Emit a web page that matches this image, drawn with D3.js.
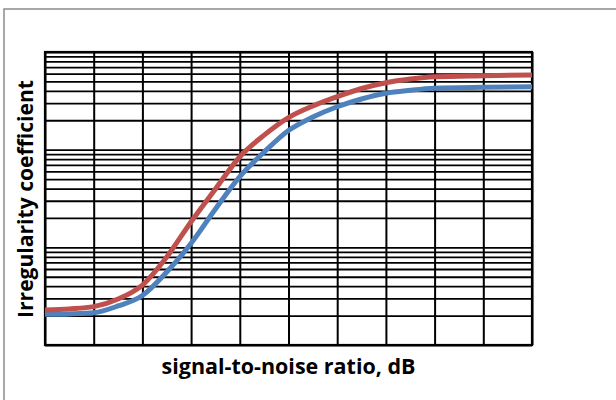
<!DOCTYPE html>
<html>
<head>
<meta charset="utf-8">
<script src="https://cdn.jsdelivr.net/npm/d3@7"></script>
<style>
  html, body { margin: 0; padding: 0; background: #fff; }
  svg { display: block; }
</style>
</head>
<body>
<svg id="chart" width="616" height="400"></svg>
<script>
// ---- data ----
const snr = [0, 0.5, 1, 1.5, 2, 2.5, 3, 3.5, 4, 4.5, 5, 5.5, 6, 6.5, 7, 7.5, 8, 9, 10];
const seriesRed  = [2.28, 2.34, 2.47, 2.96, 4.11, 7.96, 18.3, 39.6, 84.7, 141, 213, 280, 349, 423, 485, 529, 558, 572, 581];
const seriesBlue = [2.06, 2.08, 2.14, 2.51, 3.21, 5.59, 11.0, 24.7, 52.9, 94.6, 157, 216, 275, 330, 378, 405, 425, 435, 441];
const xTicks = [0, 1, 2, 3, 4, 5, 6, 7, 8, 9, 10];
const xTitle = "signal-to-noise ratio, dB";
const yTitle = "Irregularity coefficient";

// ---- layout ----
const svg = d3.select("#chart");
const margin = { left: 45, right: 84, top: 52, bottom: 55 };
const W = 616, H = 400;

svg.append("rect").attr("x", 4).attr("y", 9).attr("width", 700).attr("height", 500)
  .attr("fill", "#fff").attr("stroke", "#8c8c8c").attr("stroke-width", 1.5);

const x = d3.scaleLinear().domain([0, 10]).range([margin.left, W - margin.right]);
const y = d3.scaleLog().domain([1, 1000]).range([H - margin.bottom, margin.top]);

// vertical grid
svg.append("g")
  .attr("transform", `translate(0,${margin.top})`)
  .call(d3.axisTop(x).tickValues(xTicks).tickSize(-(y.range()[0] - y.range()[1])).tickFormat(""))
  .call(g => g.select(".domain").remove())
  .call(g => g.selectAll("line").attr("stroke", "#000").attr("stroke-width", 2));

// horizontal log grid
const yGrid = [];
for (let d = 1; d < 1000; d *= 10) for (let k = 1; k <= 9; k++) yGrid.push(d * k);
yGrid.push(1000);
svg.append("g")
  .attr("transform", `translate(${margin.left},0)`)
  .call(d3.axisLeft(y).tickValues(yGrid).tickSize(-(x.range()[1] - x.range()[0])).tickFormat(""))
  .call(g => g.select(".domain").remove())
  .call(g => g.selectAll("line").attr("stroke", "#000").attr("stroke-width", 1.8));

// border
svg.append("rect")
  .attr("x", x.range()[0]).attr("y", y.range()[1])
  .attr("width", x.range()[1] - x.range()[0]).attr("height", y.range()[0] - y.range()[1])
  .attr("fill", "none").attr("stroke", "#000").attr("stroke-width", 2.2);

const line = d3.line().x((d, i) => x(snr[i])).y(d => y(d)).curve(d3.curveMonotoneX);

svg.append("path").datum(seriesBlue).attr("d", line)
  .attr("fill", "none").attr("stroke", "#4F81BD").attr("stroke-width", 5).attr("stroke-linecap", "butt");
svg.append("path").datum(seriesRed).attr("d", line)
  .attr("fill", "none").attr("stroke", "#C0504D").attr("stroke-width", 5).attr("stroke-linecap", "butt");

// titles (fit to measured widths of the reference)
function fit(sel, target) {
  const w = sel.node().getComputedTextLength();
  if (w > 0) sel.attr("font-size", 20 * target / w);
}
const font = "'Open Sans', Lato, sans-serif";
const xt = svg.append("text")
  .attr("x", (x.range()[0] + x.range()[1]) / 2).attr("y", 374)
  .attr("text-anchor", "middle")
  .attr("font-family", font).attr("font-weight", "bold").attr("font-size", 20)
  .attr("fill", "#000")
  .text(xTitle);
fit(xt, 254);

const yt = svg.append("text")
  .attr("transform", `translate(33,199) rotate(-90)`)
  .attr("text-anchor", "middle")
  .attr("font-family", font).attr("font-weight", "bold").attr("font-size", 20)
  .attr("fill", "#000")
  .text(yTitle);
fit(yt, 238);
</script>
</body>
</html>
